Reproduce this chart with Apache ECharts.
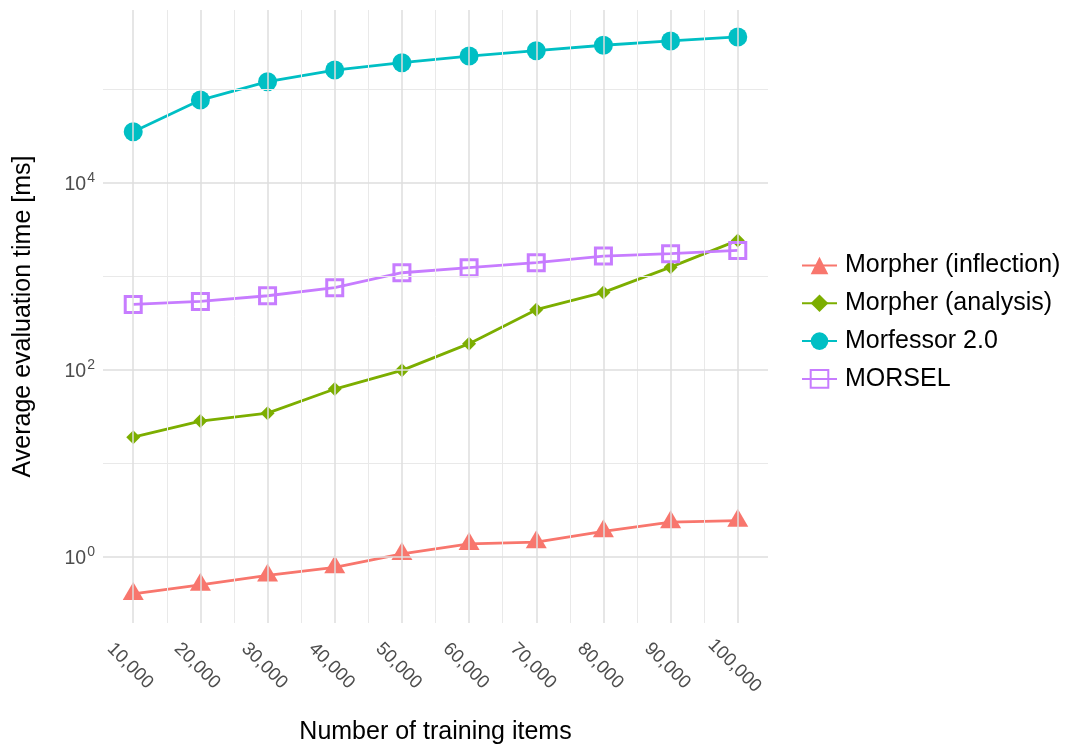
<!DOCTYPE html>
<html>
<head>
<meta charset="utf-8">
<script src="https://cdn.jsdelivr.net/npm/echarts@6/dist/echarts.min.js"></script>
<style>
  html, body { margin: 0; padding: 0; background: #ffffff; }
  #chart { width: 1070px; height: 744px; }
</style>
</head>
<body>
<div id="chart"></div>
<script>
// Training set sizes (x) and average evaluation time in ms (y, log scale)
const trainingItems = [10000, 20000, 30000, 40000, 50000, 60000, 70000, 80000, 90000, 100000];
const inflectionMs = [0.40, 0.50, 0.63, 0.77, 1.07, 1.37, 1.43, 1.87, 2.34, 2.43];
const analysisMs   = [19.0, 28.2, 34.3, 62.1, 98.4, 190, 438, 671, 1250, 2415];
const morfessorMs  = [35100, 76500, 120200, 160300, 191900, 226300, 258000, 295000, 328000, 362000];
const morselMs     = [499, 537, 618, 753, 1089, 1233, 1394, 1640, 1741, 1888];
const seriesNames  = ['Morpher (inflection)', 'Morpher (analysis)', 'Morfessor 2.0', 'MORSEL'];

// Grid breaks
const xMinorBreaks = [15000, 25000, 35000, 45000, 55000, 65000, 75000, 85000, 95000];
const yMajorBreaks = [1, 100, 10000];
const yMinorBreaks = [10, 1000, 100000];

// Axis limits (5% expansion around the data range)
const xLimits = [5500, 104500];
const yLimits = [Math.pow(10, -0.709), Math.pow(10, 5.847)];

const FONT = 'Liberation Sans, Arial, Helvetica, sans-serif';

const seriesValues = [inflectionMs, analysisMs, morfessorMs, morselMs];
// Triangle is lifted so its centroid (not its box centre) sits on the value
const seriesLooks = [
  { color: '#F8766D', symbol: 'triangle', symbolSize: [21, 18], symbolOffset: [0, -3], fill: '#F8766D', border: 0 },
  { color: '#7CAE00', symbol: 'diamond',  symbolSize: [14, 14], symbolOffset: [0, 0], fill: '#7CAE00', border: 0 },
  { color: '#00BFC4', symbol: 'circle',   symbolSize: 19,       symbolOffset: [0, 0], fill: '#00BFC4', border: 0 },
  { color: '#C77CFF', symbol: 'rect',     symbolSize: 16,       symbolOffset: [0, 0], fill: 'rgba(0,0,0,0)', border: 3 }
];

const majorLine = { color: '#dedede', width: 1.5, type: 'solid' };
const minorLine = { color: '#e9e9e9', width: 1, type: 'solid' };

// Gridlines drawn as mark lines on an empty helper series
const gridSeries = {
  name: '__grid',
  type: 'line',
  data: [],
  z: 1,
  silent: true,
  markLine: {
    silent: true,
    symbol: 'none',
    animation: false,
    label: { show: false },
    emphasis: { disabled: true },
    data: [
      ...xMinorBreaks.map(v => ({ xAxis: v, lineStyle: minorLine })),
      ...yMinorBreaks.map(v => ({ yAxis: v, lineStyle: minorLine })),
      ...trainingItems.map(v => ({ xAxis: v, lineStyle: majorLine })),
      ...yMajorBreaks.map(v => ({ yAxis: v, lineStyle: majorLine }))
    ]
  }
};

const dataSeries = seriesNames.map((name, i) => {
  const look = seriesLooks[i];
  return {
    name: name,
    type: 'line',
    z: 3,
    data: trainingItems.map((x, k) => [x, seriesValues[i][k]]),
    symbol: look.symbol,
    symbolSize: look.symbolSize,
    symbolOffset: look.symbolOffset,
    showAllSymbol: true,
    color: look.color,
    lineStyle: { color: look.color, width: 2.8 },
    itemStyle: { color: look.fill, borderColor: look.color, borderWidth: look.border, opacity: 1 },
    emphasis: { disabled: true }
  };
});

function fmtThousands(v) {
  return String(v).replace(/\B(?=(\d{3})+(?!\d))/g, ',');
}

const chart = echarts.init(document.getElementById('chart'), null, { renderer: 'canvas' });
chart.setOption({
  animation: false,
  backgroundColor: '#ffffff',
  grid: { left: 103, right: 302, top: 10, bottom: 121, containLabel: false, outerBoundsMode: 'none' },
  legend: {
    orient: 'vertical',
    left: 796,
    top: 248,
    itemWidth: 35,
    itemHeight: 22,
    itemGap: 12.8,
    selectedMode: false,
    data: seriesNames,
    textStyle: { fontFamily: FONT, fontSize: 25, color: '#000000', lineHeight: 22, padding: [0, 0, 0, 3] }
  },
  xAxis: {
    type: 'value',
    min: xLimits[0],
    max: xLimits[1],
    splitNumber: 10,
    name: 'Number of training items',
    nameLocation: 'middle',
    nameGap: 109,
    nameMoveOverlap: false,
    nameTextStyle: { fontFamily: FONT, fontSize: 25, color: '#000000', verticalAlign: 'middle' },
    axisLine: { show: false },
    axisTick: { show: false },
    splitLine: { show: false },
    axisLabel: {
      rotate: -45,
      align: 'center',
      verticalAlign: 'middle',
      margin: 46,
      padding: [0, 9, 0, 0],
      fontFamily: FONT,
      fontSize: 18.5,
      color: '#4d4d4d',
      showMinLabel: false,
      showMaxLabel: false,
      formatter: v => (trainingItems.indexOf(v) >= 0 ? fmtThousands(v) : '')
    }
  },
  yAxis: {
    type: 'log',
    logBase: 10,
    min: yLimits[0],
    max: yLimits[1],
    name: 'Average evaluation time [ms]',
    nameLocation: 'middle',
    nameGap: 80,
    nameRotate: 90,
    nameMoveOverlap: false,
    nameTextStyle: { fontFamily: FONT, fontSize: 25, color: '#000000', verticalAlign: 'middle' },
    axisLine: { show: false },
    axisTick: { show: false },
    splitLine: { show: false },
    minorSplitLine: { show: false },
    axisLabel: {
      margin: 8,
      showMinLabel: false,
      showMaxLabel: false,
      formatter: function (v) {
        const e = Math.round(Math.log10(v));
        if (Math.abs(Math.log10(v) - e) > 1e-6) return '';
        return yMajorBreaks.indexOf(Math.pow(10, e)) >= 0 ? '{b|10}{s|' + e + '}' : '';
      },
      rich: {
        b: { fontFamily: FONT, fontSize: 19.5, color: '#4d4d4d', lineHeight: 24, verticalAlign: 'bottom' },
        s: { fontFamily: FONT, fontSize: 14, color: '#4d4d4d', lineHeight: 24, verticalAlign: 'top', padding: [0, 0, 0, 1] }
      }
    }
  },
  series: [gridSeries, ...dataSeries]
});
</script>
</body>
</html>
